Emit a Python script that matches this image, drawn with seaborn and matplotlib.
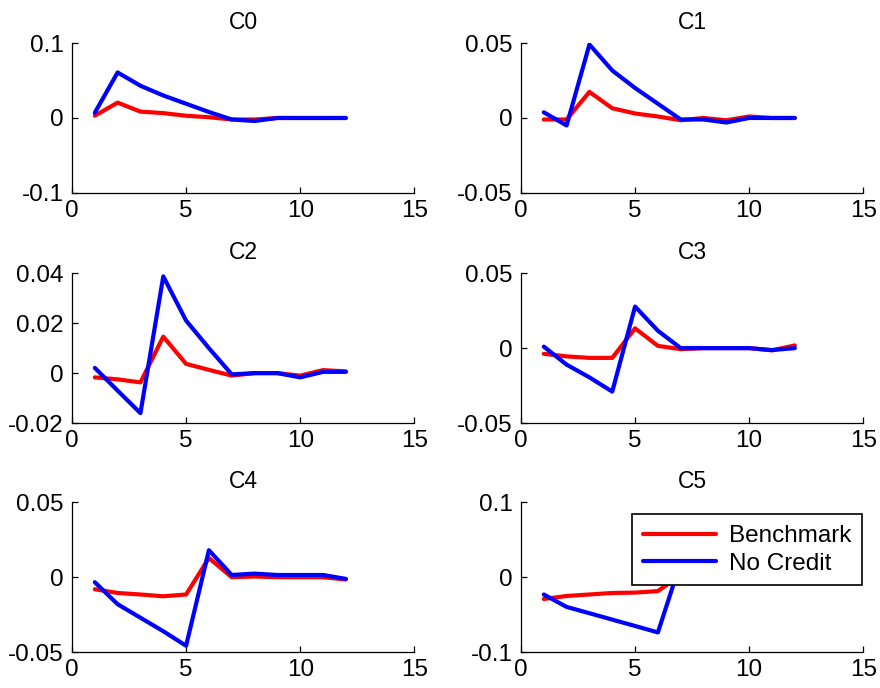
import numpy as np
import pandas as pd
import matplotlib
matplotlib.use("Agg")
import matplotlib.pyplot as plt
import seaborn as sns

# Impulse responses by period for each variable
periods = list(range(1, 13))
panels = ["C0", "C1", "C2", "C3", "C4", "C5"]
series_names = ["Benchmark", "No Credit"]

bench_c0 = [0.003, 0.0205, 0.0085, 0.0065, 0.003, 0.001, -0.002, -0.002, 0, 0, 0, 0]
nocred_c0 = [0.007, 0.0607, 0.043, 0.030, 0.019, 0.008, -0.002, -0.004, 0, 0, 0, 0]

bench_c1 = [-0.001, -0.001, 0.0174, 0.0065, 0.003, 0.001, -0.0015, 0, -0.0015, 0.001, 0, 0]
nocred_c1 = [0.0038, -0.005, 0.049, 0.0317, 0.020, 0.0095, -0.001, -0.001, -0.003, 0, 0, 0]

bench_c2 = [-0.0017, -0.0025, -0.0037, 0.0146, 0.0037, 0.0013, -0.001, 0, 0, -0.001, 0.0012, 0.0007]
nocred_c2 = [0.0021, -0.007, -0.016, 0.0387, 0.021, 0.010, -0.0005, 0, 0, -0.0017, 0.0005, 0.0005]

bench_c3 = [-0.0038, -0.0055, -0.0065, -0.0065, 0.0132, 0.0015, -0.0007, 0, 0, 0, -0.0015, 0.0018]
nocred_c3 = [0.001, -0.011, -0.0195, -0.029, 0.0277, 0.0116, 0, 0, 0, 0, -0.0013, 0]

bench_c4 = [-0.008, -0.0105, -0.0115, -0.0127, -0.0115, 0.0128, 0, 0.0005, 0, 0, 0, -0.0015]
nocred_c4 = [-0.0033, -0.018, -0.027, -0.036, -0.0457, 0.018, 0.0015, 0.0024, 0.0015, 0.0015, 0.0015, -0.0011]

bench_c5 = [-0.029, -0.025, -0.023, -0.021, -0.0205, -0.0185, 0.003, 0, 0, 0, 0, 0]
nocred_c5 = [-0.023, -0.0396, -0.048, -0.0565, -0.065, -0.0736, 0.02, 0, 0, 0, 0, 0]

y_limits = [(-0.1, 0.1), (-0.05, 0.05), (-0.02, 0.04), (-0.05, 0.05), (-0.05, 0.05), (-0.1, 0.1)]
y_ticks = [[-0.1, 0, 0.1], [-0.05, 0, 0.05], [-0.02, 0, 0.02, 0.04],
           [-0.05, 0, 0.05], [-0.05, 0, 0.05], [-0.1, 0, 0.1]]
x_ticks = [0, 5, 10, 15]

bench_all = [bench_c0, bench_c1, bench_c2, bench_c3, bench_c4, bench_c5]
nocred_all = [nocred_c0, nocred_c1, nocred_c2, nocred_c3, nocred_c4, nocred_c5]

rows = []
for name, b, n in zip(panels, bench_all, nocred_all):
    for t, vb, vn in zip(periods, b, n):
        rows.append((name, t, vb, "Benchmark"))
        rows.append((name, t, vn, "No Credit"))
df = pd.DataFrame(rows, columns=["panel", "period", "value", "series"])

sns.set_style("ticks")
plt.rcParams["font.family"] = ["Liberation Sans", "DejaVu Sans"]
plt.rcParams["axes.unicode_minus"] = False
plt.rcParams["text.color"] = "black"
plt.rcParams["axes.labelcolor"] = "black"

fig = plt.figure(figsize=(8.8, 6.88), dpi=100)

lefts = [0.0818, 0.592]
bottoms = [0.7195, 0.385, 0.052]
w, h = 0.389, 0.218

palette = {"Benchmark": "#ff0000", "No Credit": "#0000ff"}

for i, name in enumerate(panels):
    r, c = divmod(i, 2)
    ax = fig.add_axes([lefts[c], bottoms[r], w, h])
    sub = df[df["panel"] == name]
    sns.lineplot(data=sub, x="period", y="value", hue="series",
                 hue_order=series_names, palette=palette,
                 linewidth=3.0, ax=ax, legend=(name == "C5"))
    ax.set_xlim(0, 15)
    ax.set_ylim(*y_limits[i])
    ax.set_xticks(x_ticks)
    ax.set_xticklabels([f"{v:g}" for v in x_ticks])
    ax.set_yticks(y_ticks[i])
    ax.set_yticklabels([f"{v:g}" for v in y_ticks[i]])
    ax.set_xlabel("")
    ax.set_ylabel("")
    ax.set_title(name, fontsize=16.5, pad=10, color="black")
    sns.despine(ax=ax)
    for s in ("left", "bottom"):
        ax.spines[s].set_linewidth(0.9)
        ax.spines[s].set_color("black")
    ax.tick_params(axis="both", direction="in", length=4, width=0.9,
                   labelsize=17.5, colors="black")
    ax.tick_params(axis="y", pad=6)
    ax.tick_params(axis="x", pad=5)
    if name == "C5":
        leg = ax.legend(loc="upper right", bbox_to_anchor=(0.997, 0.92),
                        borderaxespad=0, fontsize=17.5, frameon=True,
                        fancybox=False, edgecolor="black", framealpha=1,
                        handlelength=3.0, handletextpad=0.55,
                        labelspacing=0.22, borderpad=0.45)
        leg.get_frame().set_linewidth(1.2)
        for txt in leg.get_texts():
            txt.set_color("black")

fig.savefig("out.png", dpi=100)
